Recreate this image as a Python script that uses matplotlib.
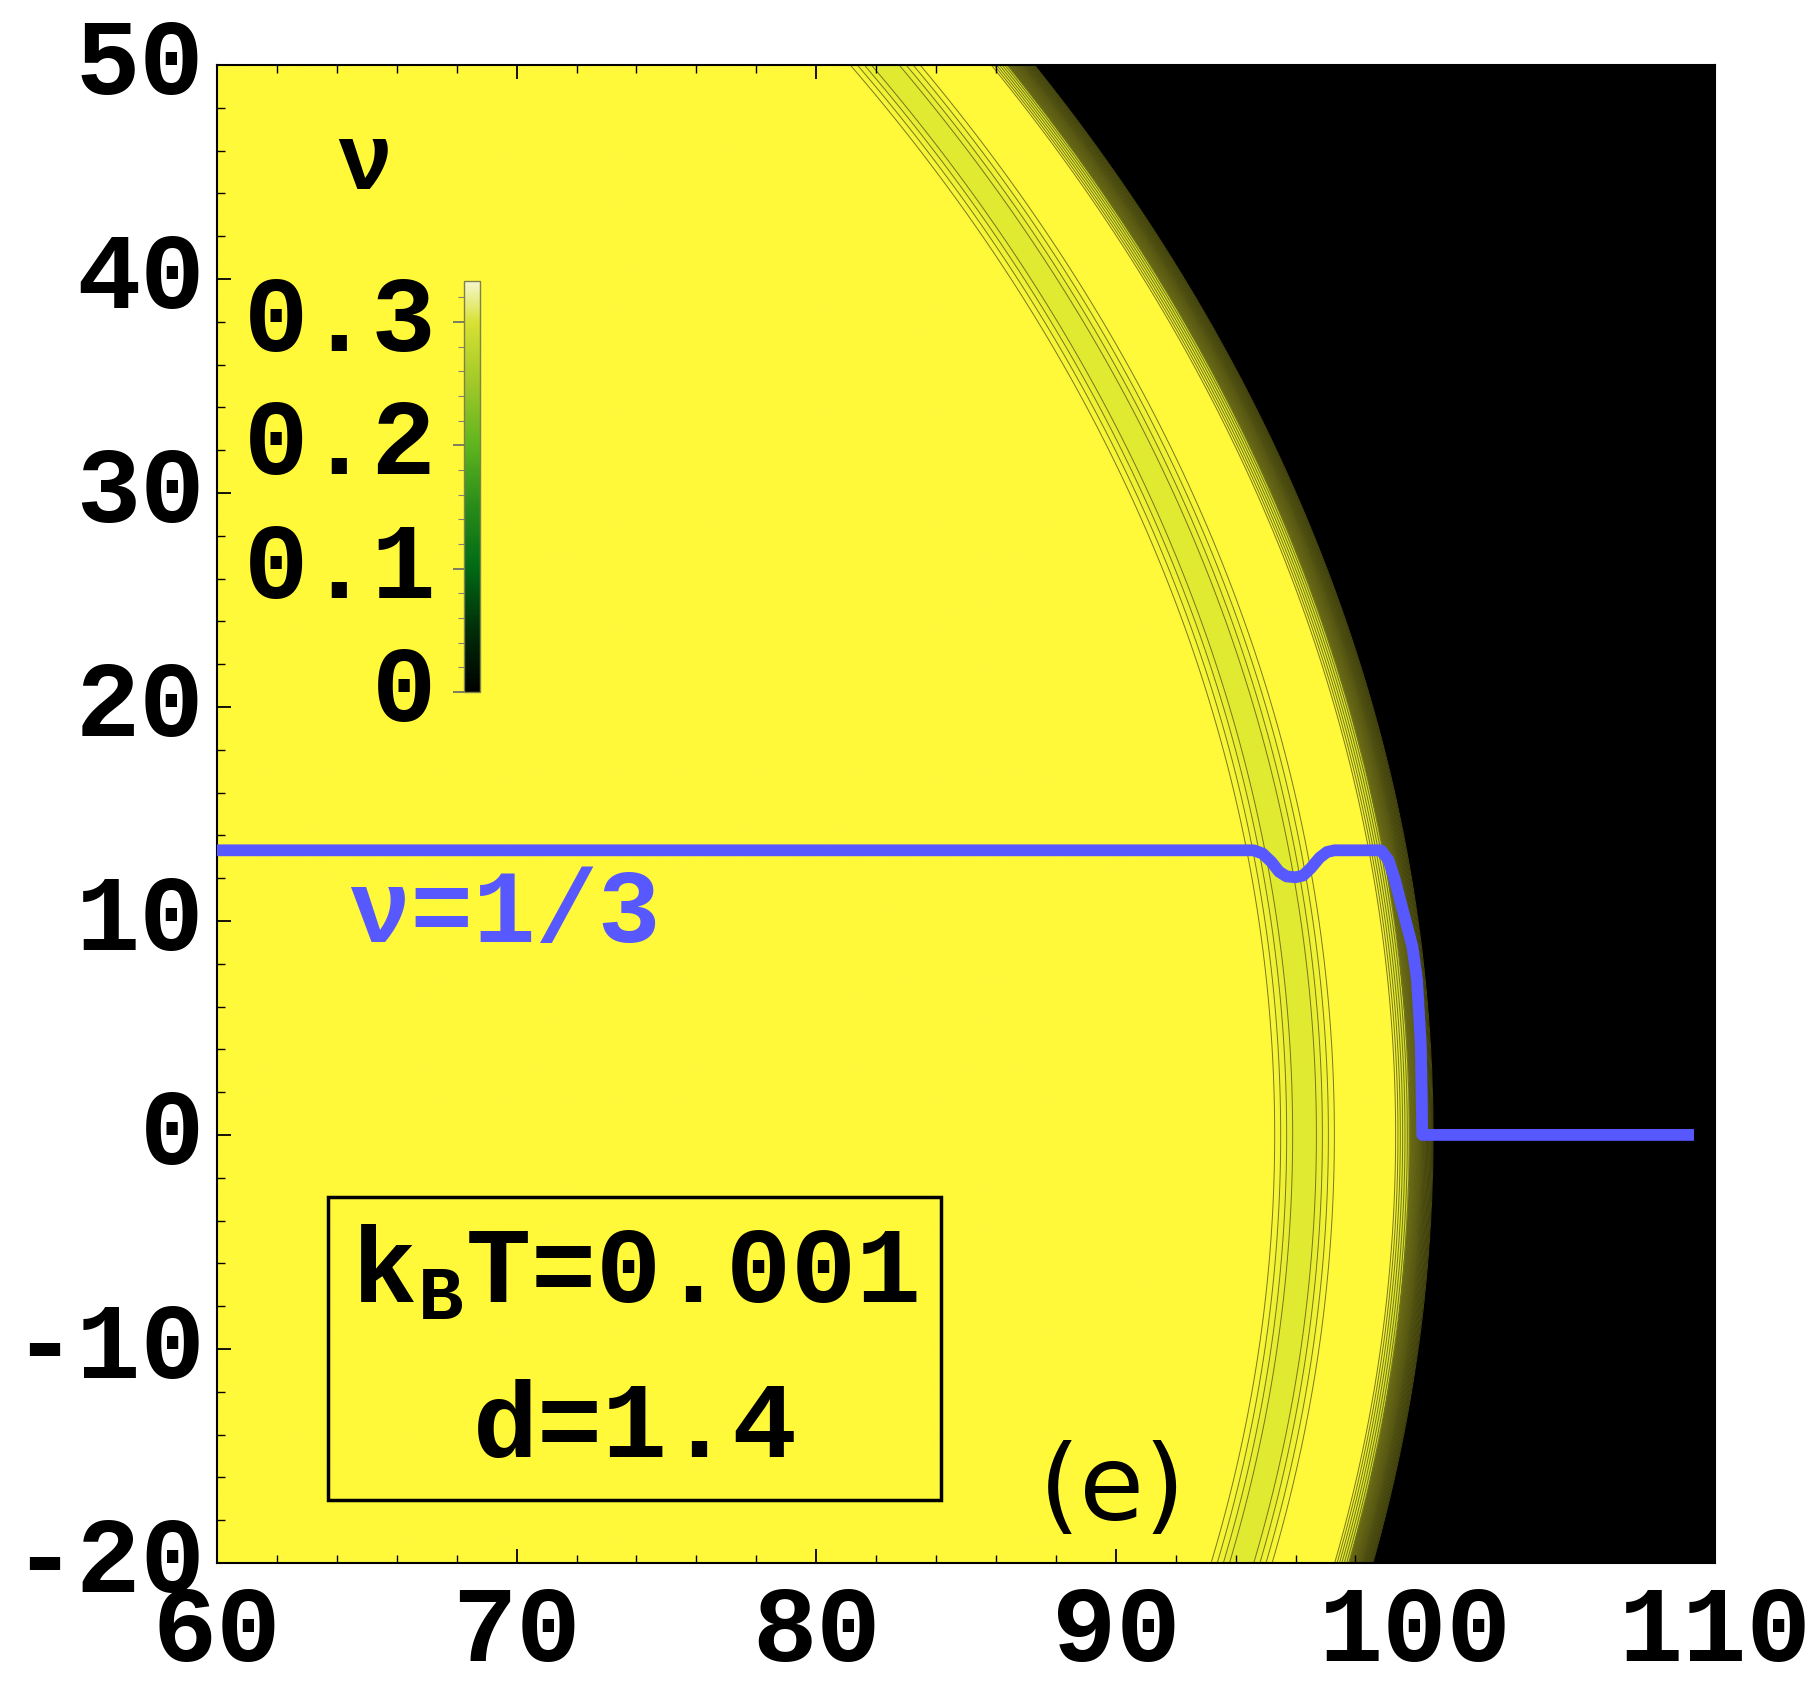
import numpy as np
import matplotlib
matplotlib.use("Agg")
import matplotlib.pyplot as plt
from matplotlib.colors import LinearSegmentedColormap, Normalize
from matplotlib.patches import Rectangle
from matplotlib.ticker import MultipleLocator
import matplotlib.cm as cm

plt.rcParams['axes.unicode_minus'] = False
plt.rcParams['mathtext.fontset'] = 'custom'
plt.rcParams['mathtext.rm'] = 'Liberation Mono:bold'
plt.rcParams['mathtext.it'] = 'Liberation Mono:bold'

# ---------------- data ----------------
# radial filling-factor profile (radius, nu) of the density map
R_PROFILE = [0.0, 95.2, 96.0, 96.6, 97.4, 99.3, 99.8, 100.2, 100.6, 160.0]
NU_PROFILE = [1/3, 1/3, 0.300, 0.300, 1/3, 1/3, 0.28, 0.12, 0.0, 0.0]

# nu(x, y=0) scaled line (blue)
LINE_X = [60.0, 94.6, 94.9, 95.2, 95.45, 95.7, 96.0, 96.25, 96.5, 96.8, 97.05, 97.3,
          98.85, 99.1, 99.3, 99.6, 99.9, 100.05, 100.12, 100.18, 100.21, 100.23, 109.3]
LINE_Y = [13.3, 13.3, 13.15, 12.75, 12.3, 12.08, 12.04, 12.12, 12.45, 12.95, 13.22, 13.3,
          13.3, 12.85, 12.0, 10.4, 8.8, 7.3, 5.7, 4.2, 2.0, 0.0, 0.0]

X_TICKS = [60, 70, 80, 90, 100, 110]
Y_TICKS = [-20, -10, 0, 10, 20, 30, 40, 50]
CB_TICKS = [0, 0.1, 0.2, 0.3]
CB_LABELS = ["0", "0.1", "0.2", "0.3"]
NU_MAX = 1/3

# ---------------- figure ----------------
fig = plt.figure(figsize=(18.19, 16.99), dpi=100)
ax = fig.add_axes([0.1193, 0.0795, 0.8235, 0.8817])

xs = np.linspace(60, 110, 1400)
ys = np.linspace(-20, 50, 1400)
XX, YY = np.meshgrid(xs, ys)
RR = np.hypot(XX, YY)
NU = np.interp(RR, R_PROFILE, NU_PROFILE)

def rgb(r, g, b):
    return (r / 255, g / 255, b / 255)

img_cmap = LinearSegmentedColormap.from_list(
    "img", [(0.0, rgb(0, 0, 0)), (0.25, rgb(40, 45, 5)), (0.55, rgb(140, 140, 25)),
            (0.9, rgb(224, 234, 48)), (1.0, rgb(255, 249, 58))])

ax.imshow(NU, extent=[60, 110, -20, 50], origin='lower', cmap=img_cmap,
          vmin=0, vmax=NU_MAX, aspect='auto', interpolation='bilinear', zorder=0)
levels = np.linspace(0.004, 0.329, 40)
ax.contour(XX, YY, NU, levels=levels, colors=[(0.35, 0.35, 0.08)], linewidths=0.7,
           alpha=0.8, zorder=1)

ax.plot(LINE_X, LINE_Y, color='#5858ff', lw=8.5, solid_joinstyle='round',
        solid_capstyle='butt', zorder=3)

ax.set_xlim(60, 110)
ax.set_ylim(-20, 50)
ax.set_xticks(X_TICKS)
ax.set_yticks(Y_TICKS)
ax.xaxis.set_minor_locator(MultipleLocator(2))
ax.yaxis.set_minor_locator(MultipleLocator(2))
ax.tick_params(which='both', direction='in', top=True, right=True, color='black')
ax.tick_params(which='major', length=10, width=1.3)
ax.tick_params(which='minor', length=6, width=1.0)
ax.tick_params(axis='x', pad=14)
ax.tick_params(axis='y', pad=9)
tick_font = dict(family='Liberation Mono', weight='bold', size=77)
ax.set_xticklabels([str(v) for v in X_TICKS], fontdict=tick_font)
ax.set_yticklabels([str(v) for v in Y_TICKS], fontdict=tick_font)
for lab in ax.get_yticklabels():
    lab.set_verticalalignment('center')
for s in ax.spines.values():
    s.set_linewidth(1.5)

# labels
ax.text(64.4, 10.3, "\u03bd=1/3", color='#5858ff', fontsize=75,
        family='Liberation Mono', weight='bold', ha='left', va='center', zorder=4)
ax.add_patch(Rectangle((63.7, -17.06), 84.17 - 63.7, 14.16, fill=False,
                       edgecolor='black', lw=2.5, zorder=4))
ax.text(73.95, -6.5, r"$\mathrm{k_B}$T=0.001", fontsize=78, family='Liberation Mono',
        weight='bold', ha='center', va='center', zorder=5)
ax.text(73.95, -13.7, "d=1.4", fontsize=78, family='Liberation Mono',
        weight='bold', ha='center', va='center', zorder=5)
ax.text(89.9, -16.6, "(e)", fontsize=76, family='DejaVu Sans', ha='center',
        va='center', zorder=5)

# colorbar
cb_cmap = LinearSegmentedColormap.from_list(
    "cb", [(0.0, rgb(0, 0, 0)), (0.15, rgb(0, 45, 8)), (0.3, rgb(0, 105, 22)),
           (0.45, rgb(40, 140, 25)), (0.6, rgb(95, 180, 30)),
           (0.75, rgb(160, 200, 40)), (0.9, rgb(215, 225, 50)),
           (1.0, rgb(246, 246, 205))])
cax = fig.add_axes([0.2551, 0.5921, 0.0088, 0.2419])
cb = fig.colorbar(cm.ScalarMappable(norm=Normalize(0, NU_MAX), cmap=cb_cmap), cax=cax)
cb.outline.set_edgecolor((0.5, 0.5, 0.3))
cb.outline.set_linewidth(1.0)
cax.yaxis.set_ticks_position('left')
cax.yaxis.set_label_position('left')
cb.set_ticks(CB_TICKS)
cb.set_ticklabels(CB_LABELS)
cax.yaxis.set_minor_locator(MultipleLocator(0.02))
cax.tick_params(which='major', length=8, width=1.2, color=(0.4, 0.4, 0.4), pad=12)
cax.tick_params(which='minor', length=4, width=0.8, color=(0.5, 0.5, 0.5))
for lab in cax.get_yticklabels():
    lab.set_fontfamily('Liberation Mono')
    lab.set_fontweight('bold')
    lab.set_fontsize(77)
    lab.set_verticalalignment('center')

fig.text(365 / 1819, 1 - 165 / 1699, "\u03bd", fontsize=68, family='Liberation Mono',
         weight='bold', ha='center', va='center')

fig.savefig("out.png", dpi=100, facecolor='white')
